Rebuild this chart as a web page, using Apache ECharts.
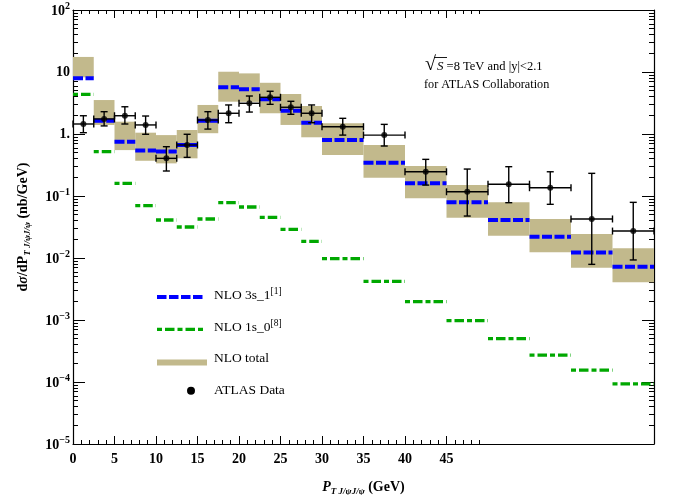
<!DOCTYPE html>
<html>
<head>
<meta charset="utf-8">
<script src="https://cdn.jsdelivr.net/npm/echarts@6/dist/echarts.min.js"></script>
<style>
html, body { margin: 0; padding: 0; background: #fff; }
#chart { width: 676px; height: 495px; }
</style>
</head>
<body>
<div id="chart"></div>
<script>
// pT bins (GeV)
const binLow  = [0, 2.5, 5, 7.5, 10, 12.5, 15, 17.5, 20, 22.5, 25, 27.5, 30, 35, 40, 45, 50, 55, 60, 65];
const binHigh = [2.5, 5, 7.5, 10, 12.5, 15, 17.5, 20, 22.5, 25, 27.5, 30, 35, 40, 45, 50, 55, 60, 65, 70];

// NLO 3s_1[1] (nb/GeV)
const nlo3s1 = [7.9, 1.64, 0.75, 0.54, 0.52, 0.665, 1.64, 5.66, 5.26, 3.63, 2.38, 1.52,
                0.80, 0.344, 0.160, 0.079, 0.041, 0.022, 0.0123, 0.0072];
// NLO 1s_0[8]
const nlo1s0 = [4.37, 0.52, 0.16, 0.070, 0.041, 0.0316, 0.0426, 0.078, 0.0665, 0.0453, 0.029, 0.0186,
                0.0098, 0.0042, 0.00198, 0.00098, 0.0005, 0.000272, 0.000156, 0.0000933];
// NLO total band
const totalLow  = [8.2, 1.40, 0.55, 0.37, 0.336, 0.405, 1.03, 3.32, 3.3, 2.16, 1.40, 0.885,
                   0.458, 0.197, 0.092, 0.0447, 0.0229, 0.0124, 0.00698, 0.00406];
const totalHigh = [17.5, 3.53, 1.58, 1.05, 0.96, 1.16, 2.94, 10.1, 9.5, 6.7, 4.42, 2.83,
                   1.49, 0.665, 0.305, 0.150, 0.079, 0.0426, 0.0244, 0.0143];

// ATLAS data
const atlasX = [1.25, 3.75, 6.25, 8.75, 11.25, 13.75, 16.25, 18.75, 21.25, 23.75, 26.25, 28.75,
                32.5, 37.5, 42.5, 47.5, 52.5, 57.5, 62.5, 67.5];
const atlasY = [1.45, 1.75, 1.97, 1.40, 0.405, 0.665, 1.68, 2.16, 3.13, 3.91, 2.70, 2.16,
                1.31, 0.96, 0.246, 0.117, 0.155, 0.136, 0.0426, 0.0272];
const atlasYLow  = [1.05, 1.35, 1.45, 0.99, 0.253, 0.42, 1.2, 1.52, 2.26, 3.01, 2.08, 1.52,
                    0.96, 0.64, 0.150, 0.0475, 0.078, 0.0734, 0.0079, 0.0093];
const atlasYHigh = [1.97, 2.29, 2.75, 1.95, 0.624, 0.99, 2.29, 2.94, 4.1, 4.89, 3.37, 2.94,
                    1.79, 1.43, 0.39, 0.272, 0.297, 0.246, 0.232, 0.079];

// axis ticks
const xMajorTicks = [0, 5, 10, 15, 20, 25, 30, 35, 40, 45];
const xMinorTicks = [];
for (let i = 0; i < 50; i++) if (i % 5 !== 0) xMinorTicks.push(i);
const yDecades = [-5, -4, -3, -2, -1, 0, 1, 2];
const yMinorTicks = [];
for (let n = -5; n < 2; n++) for (let k = 2; k <= 9; k++) yMinorTicks.push(n + Math.log10(k));

const serif = 'Liberation Serif';
const bandColor = '#c2b98c';
const blue = '#0000ff';
const green = '#00a800';

const chart = echarts.init(document.getElementById('chart'));

function decadeLabel(v) {
    const n = Math.round(Math.log10(v));
    if (n === 0) return '{b|1.}';
    if (n === 1) return '{b|10}';
    return '{b|10}{sup|' + (n < 0 ? '\u2212' + (-n) : n) + '}';
}

function tickAxis(pos, values, len, extra) {
    return Object.assign({
        type: 'value', position: pos, min: 0, max: 70,
        axisLine: { show: false, onZero: false },
        axisTick: { show: true, inside: true, length: len, customValues: values,
                    lineStyle: { color: '#000', width: 1 } },
        axisLabel: { show: false },
        splitLine: { show: false }
    }, extra || {});
}

function yTickAxis(pos, values, len, showLine) {
    return {
        type: 'value', position: pos, min: -5, max: 2,
        axisLine: { show: showLine, onZero: false, lineStyle: { color: '#000', width: 1.2 } },
        axisTick: { show: true, inside: true, length: len, customValues: values,
                    lineStyle: { color: '#000', width: 1 } },
        axisLabel: { show: false },
        splitLine: { show: false }
    };
}

// 误差棒
function renderErr(params, api) {
    const x = api.value(0), y = api.value(1);
    const c = api.coord([x, y]);
    const l = api.coord([api.value(2), y]);
    const r = api.coord([api.value(3), y]);
    const lo = api.coord([x, api.value(4)]);
    const hi = api.coord([x, api.value(5)]);
    const cap = 3.5;
    const st = { stroke: '#000', lineWidth: 1.4 };
    return {
        type: 'group',
        children: [
            { type: 'line', shape: { x1: l[0], y1: c[1], x2: r[0], y2: c[1] }, style: st },
            { type: 'line', shape: { x1: c[0], y1: lo[1], x2: c[0], y2: hi[1] }, style: st },
            { type: 'line', shape: { x1: l[0], y1: c[1] - cap, x2: l[0], y2: c[1] + cap }, style: st },
            { type: 'line', shape: { x1: r[0], y1: c[1] - cap, x2: r[0], y2: c[1] + cap }, style: st },
            { type: 'line', shape: { x1: c[0] - cap, y1: lo[1], x2: c[0] + cap, y2: lo[1] }, style: st },
            { type: 'line', shape: { x1: c[0] - cap, y1: hi[1], x2: c[0] + cap, y2: hi[1] }, style: st }
        ]
    };
}

function renderLevel(color, width, dash) {
    return function (params, api) {
        const a = api.coord([api.value(0), api.value(2)]);
        const b = api.coord([api.value(1), api.value(2)]);
        return {
            type: 'line',
            shape: { x1: a[0], y1: a[1], x2: b[0], y2: b[1] },
            style: { stroke: color, lineWidth: width, lineDash: dash, lineCap: 'butt' }
        };
    };
}

function renderBand(params, api) {
    const a = api.coord([api.value(0), api.value(3)]);
    const b = api.coord([api.value(1), api.value(2)]);
    return {
        type: 'rect',
        shape: { x: a[0], y: a[1], width: b[0] - a[0], height: b[1] - a[1] },
        style: { fill: bandColor }
    };
}

const bandData = binLow.map((lo, i) => [lo, binHigh[i], totalLow[i], totalHigh[i]]);
const s31Data = binLow.map((lo, i) => [lo, binHigh[i], nlo3s1[i]]);
const s10Data = binLow.map((lo, i) => [lo, binHigh[i], nlo1s0[i]]);
const errData = atlasX.map((x, i) => [x, atlasY[i], binLow[i], binHigh[i], atlasYLow[i], atlasYHigh[i]]);
const ptData = atlasX.map((x, i) => [x, atlasY[i]]);

const option = {
    animation: false,
    backgroundColor: '#fff',
    grid: { left: 73, top: 10, width: 581, height: 434, outerBoundsMode: 'none' },
    xAxis: [
        tickAxis('bottom', xMajorTicks, 8, {
            axisLine: { show: true, onZero: false, lineStyle: { color: '#000', width: 1.2 } },
            axisLabel: {
                show: true, customValues: xMajorTicks, margin: 8,
                color: '#000', fontFamily: serif, fontWeight: 'bold', fontSize: 14
            },
            name: '{p|P}{sub|T J/\u03c8J/\u03c8}{b| (GeV)}',
            nameLocation: 'middle',
            nameGap: 36,
            nameMoveOverlap: false,
            nameTextStyle: {
                color: '#000',
                rich: {
                    p: { fontFamily: serif, fontWeight: 'bold', fontStyle: 'italic', fontSize: 14, verticalAlign: 'top', color: '#000' },
                    sub: { fontFamily: serif, fontWeight: 'bold', fontStyle: 'italic', fontSize: 9, verticalAlign: 'top', padding: [7, 0, 0, 0], color: '#000' },
                    b: { fontFamily: serif, fontWeight: 'bold', fontSize: 14, verticalAlign: 'top', color: '#000' }
                }
            }
        }),
        tickAxis('bottom', xMinorTicks, 4),
        tickAxis('top', xMajorTicks, 8, {
            axisLine: { show: true, onZero: false, lineStyle: { color: '#000', width: 1.2 } }
        }),
        tickAxis('top', xMinorTicks, 4)
    ],
    yAxis: [
        {
            type: 'log', logBase: 10, min: 1e-5, max: 100, position: 'left',
            axisLine: { show: true, onZero: false, lineStyle: { color: '#000', width: 1.2 } },
            axisTick: { show: true, inside: true, length: 12, lineStyle: { color: '#000', width: 1 } },
            axisLabel: {
                margin: 3,
                formatter: decadeLabel,
                rich: {
                    b: { fontFamily: serif, fontWeight: 'bold', fontSize: 14, color: '#000', verticalAlign: 'bottom' },
                    sup: { fontFamily: serif, fontWeight: 'bold', fontSize: 10, color: '#000', verticalAlign: 'bottom', padding: [0, 0, 7, 0] }
                }
            },
            splitLine: { show: false },
            minorTick: { show: false },
            name: '{b|d}{i|\u03c3}{b|/dP}{sub|T J/\u03c8J/\u03c8}{b| (nb/GeV)}',
            nameLocation: 'middle',
            nameGap: 41,
            nameRotate: 90,
            nameMoveOverlap: false,
            nameTextStyle: {
                color: '#000',
                rich: {
                    b: { fontFamily: serif, fontWeight: 'bold', fontSize: 14, verticalAlign: 'top', color: '#000' },
                    i: { fontFamily: serif, fontWeight: 'bold', fontStyle: 'italic', fontSize: 14, verticalAlign: 'top', color: '#000' },
                    sub: { fontFamily: serif, fontWeight: 'bold', fontStyle: 'italic', fontSize: 9, verticalAlign: 'top', padding: [7, 0, 0, 0], color: '#000' }
                }
            }
        },
        yTickAxis('left', yMinorTicks, 5, false),
        yTickAxis('right', yDecades, 12, true),
        yTickAxis('right', yMinorTicks, 5, false)
    ],
    series: [
        {
            name: 'NLO total', type: 'custom', renderItem: renderBand,
            data: bandData, encode: { x: [0, 1], y: [2, 3] },
            itemStyle: { color: bandColor }, z: 1
        },
        {
            name: 'NLO 1s_0', type: 'custom', renderItem: renderLevel(green, 3.3, [5, 3, 9.5, 3]),
            data: s10Data, encode: { x: [0, 1], y: 2 },
            itemStyle: { color: green }, z: 2
        },
        {
            name: 'NLO 3s_1', type: 'custom', renderItem: renderLevel(blue, 4, [10, 2.5]),
            data: s31Data, encode: { x: [0, 1], y: 2 },
            itemStyle: { color: blue }, z: 3
        },
        {
            name: 'ATLAS err', type: 'custom', renderItem: renderErr,
            data: errData, encode: { x: [0, 2, 3], y: [1, 4, 5] }, z: 4
        },
        {
            name: 'ATLAS Data', type: 'scatter', data: ptData,
            symbol: 'circle', symbolSize: 6, itemStyle: { color: '#000' }, z: 5
        }
    ],
    graphic: [
        // 注释
        {
            type: 'text', left: 425, top: 55,
            style: {
                text: '{r|\u221a}{s|S}{t| =8 TeV and |y|<2.1}',
                rich: {
                    r: { fontFamily: serif, fontSize: 20, fill: '#000', verticalAlign: 'bottom' },
                    s: { fontFamily: serif, fontStyle: 'italic', fontSize: 13, fill: '#000', verticalAlign: 'bottom', padding: [0, 0, 2, 1] },
                    t: { fontFamily: serif, fontSize: 12.5, fill: '#000', verticalAlign: 'bottom', padding: [0, 0, 2, 0] }
                }
            }
        },
        { type: 'line', shape: { x1: 434, y1: 57.5, x2: 447, y2: 57.5 }, style: { stroke: '#000', lineWidth: 0.9 } },
        {
            type: 'text', left: 424, top: 79,
            style: { text: 'for ATLAS Collaboration', fontFamily: serif, fontSize: 12.2, fill: '#000' }
        },
        // 图例
        { type: 'line', shape: { x1: 157, y1: 297, x2: 203, y2: 297 }, style: { stroke: blue, lineWidth: 4, lineDash: [9.5, 2.5] } },
        {
            type: 'text', left: 214, top: 286,
            style: {
                text: '{t|NLO 3s_1}{sup|[1]}',
                rich: {
                    t: { fontFamily: serif, fontSize: 13.5, fill: '#000', verticalAlign: 'bottom' },
                    sup: { fontFamily: serif, fontSize: 9.5, fill: '#000', verticalAlign: 'bottom', padding: [0, 0, 6, 0] }
                }
            }
        },
        { type: 'line', shape: { x1: 157, y1: 329.3, x2: 203, y2: 329.3 }, style: { stroke: green, lineWidth: 3.3, lineDash: [5, 3, 9.5, 3] } },
        {
            type: 'text', left: 214, top: 318,
            style: {
                text: '{t|NLO 1s_0}{sup|[8]}',
                rich: {
                    t: { fontFamily: serif, fontSize: 13.5, fill: '#000', verticalAlign: 'bottom' },
                    sup: { fontFamily: serif, fontSize: 9.5, fill: '#000', verticalAlign: 'bottom', padding: [0, 0, 6, 0] }
                }
            }
        },
        { type: 'rect', shape: { x: 157, y: 359.5, width: 50, height: 6 }, style: { fill: bandColor } },
        {
            type: 'text', left: 214, top: 351,
            style: { text: 'NLO total', fontFamily: serif, fontSize: 13.5, fill: '#000' }
        },
        { type: 'circle', shape: { cx: 191, cy: 390.7, r: 4 }, style: { fill: '#000' } },
        {
            type: 'text', left: 214, top: 383,
            style: { text: 'ATLAS Data', fontFamily: serif, fontSize: 13.5, fill: '#000' }
        }
    ]
};

chart.setOption(option);
</script>
</body>
</html>
